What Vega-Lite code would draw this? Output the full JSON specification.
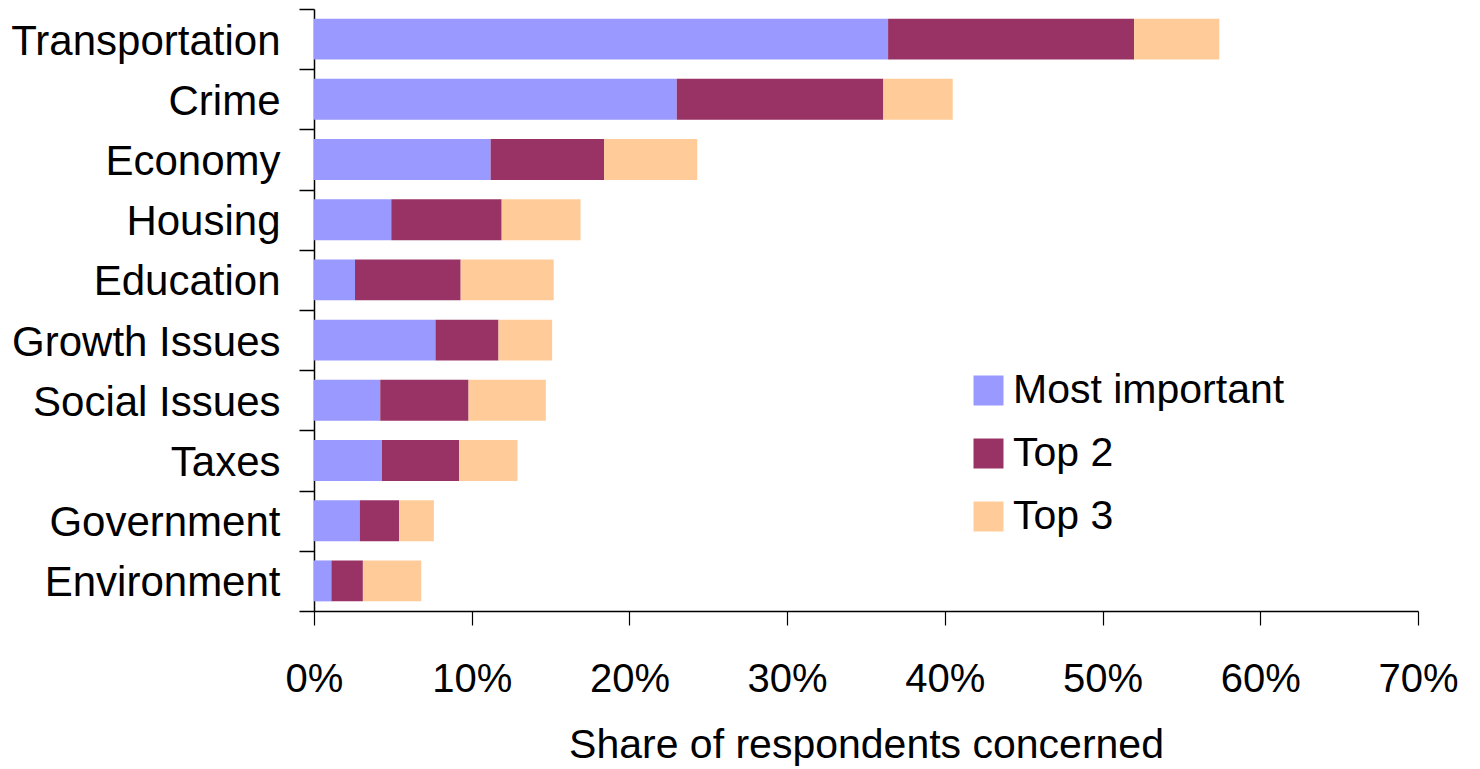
{
  "$schema": "https://vega.github.io/schema/vega-lite/v6.json",
  "width": 1104,
  "height": 602,
  "autosize": {"type": "none"},
  "padding": {"left": 314, "top": 9, "right": 62, "bottom": 158},
  "background": "white",
  "config": {
    "font": "Liberation Sans",
    "view": {"stroke": null},
    "axis": {"grid": false, "domainColor": "black", "tickColor": "black", "labelColor": "black", "titleColor": "black", "labelFont": "Liberation Sans", "titleFont": "Liberation Sans"}
  },
  "data": {
    "values": [
      {"issue": "Transportation", "series": "Most important", "rank": 1, "share": 0.364},
      {"issue": "Transportation", "series": "Top 2", "rank": 2, "share": 0.156},
      {"issue": "Transportation", "series": "Top 3", "rank": 3, "share": 0.054},
      {"issue": "Crime", "series": "Most important", "rank": 1, "share": 0.230},
      {"issue": "Crime", "series": "Top 2", "rank": 2, "share": 0.131},
      {"issue": "Crime", "series": "Top 3", "rank": 3, "share": 0.044},
      {"issue": "Economy", "series": "Most important", "rank": 1, "share": 0.112},
      {"issue": "Economy", "series": "Top 2", "rank": 2, "share": 0.072},
      {"issue": "Economy", "series": "Top 3", "rank": 3, "share": 0.059},
      {"issue": "Housing", "series": "Most important", "rank": 1, "share": 0.049},
      {"issue": "Housing", "series": "Top 2", "rank": 2, "share": 0.070},
      {"issue": "Housing", "series": "Top 3", "rank": 3, "share": 0.050},
      {"issue": "Education", "series": "Most important", "rank": 1, "share": 0.026},
      {"issue": "Education", "series": "Top 2", "rank": 2, "share": 0.067},
      {"issue": "Education", "series": "Top 3", "rank": 3, "share": 0.059},
      {"issue": "Growth Issues", "series": "Most important", "rank": 1, "share": 0.077},
      {"issue": "Growth Issues", "series": "Top 2", "rank": 2, "share": 0.040},
      {"issue": "Growth Issues", "series": "Top 3", "rank": 3, "share": 0.034},
      {"issue": "Social Issues", "series": "Most important", "rank": 1, "share": 0.042},
      {"issue": "Social Issues", "series": "Top 2", "rank": 2, "share": 0.056},
      {"issue": "Social Issues", "series": "Top 3", "rank": 3, "share": 0.049},
      {"issue": "Taxes", "series": "Most important", "rank": 1, "share": 0.043},
      {"issue": "Taxes", "series": "Top 2", "rank": 2, "share": 0.049},
      {"issue": "Taxes", "series": "Top 3", "rank": 3, "share": 0.037},
      {"issue": "Government", "series": "Most important", "rank": 1, "share": 0.029},
      {"issue": "Government", "series": "Top 2", "rank": 2, "share": 0.025},
      {"issue": "Government", "series": "Top 3", "rank": 3, "share": 0.022},
      {"issue": "Environment", "series": "Most important", "rank": 1, "share": 0.011},
      {"issue": "Environment", "series": "Top 2", "rank": 2, "share": 0.020},
      {"issue": "Environment", "series": "Top 3", "rank": 3, "share": 0.037}
    ]
  },
  "mark": {"type": "bar", "strokeWidth": 0, "height": {"band": 0.68}},
  "encoding": {
    "y": {
      "field": "issue",
      "type": "nominal",
      "sort": ["Transportation", "Crime", "Economy", "Housing", "Education", "Growth Issues", "Social Issues", "Taxes", "Government", "Environment"],
      "scale": {"paddingInner": 0, "paddingOuter": 0},
      "axis": {
        "title": null,
        "tickBand": "extent",
        "tickSize": 15,
        "labelFontSize": 42,
        "labelPadding": 19,
        "labelOffset": 2,
        "labelLimit": 400,
        "domainWidth": 1.5,
        "tickWidth": 1.5
      }
    },
    "x": {
      "field": "share",
      "type": "quantitative",
      "stack": "zero",
      "scale": {"domain": [0, 0.7], "nice": false},
      "axis": {
        "values": [0, 0.1, 0.2, 0.3, 0.4, 0.5, 0.6, 0.7],
        "format": ".0%",
        "title": "Share of respondents concerned",
        "titleFontSize": 41,
        "titleFontWeight": "normal",
        "titlePadding": 26,
        "labelFontSize": 40,
        "labelPadding": 34,
        "tickSize": 14,
        "domainWidth": 1.5,
        "tickWidth": 1.2,
        "labelFlush": false,
        "labelOverlap": false
      }
    },
    "color": {
      "field": "series",
      "type": "nominal",
      "scale": {"domain": ["Most important", "Top 2", "Top 3"], "range": ["#9999FF", "#993366", "#FFCC99"]},
      "legend": {
        "title": null,
        "orient": "none",
        "legendX": 654,
        "legendY": 361,
        "symbolType": "square",
        "symbolSize": 900,
        "symbolStrokeWidth": 0,
        "symbolOpacity": 1,
        "labelFontSize": 41,
        "labelColor": "black",
        "labelOffset": 4,
        "rowPadding": 21,
        "labelLimit": 400
      }
    },
    "order": {"field": "rank", "type": "quantitative"}
  }
}
